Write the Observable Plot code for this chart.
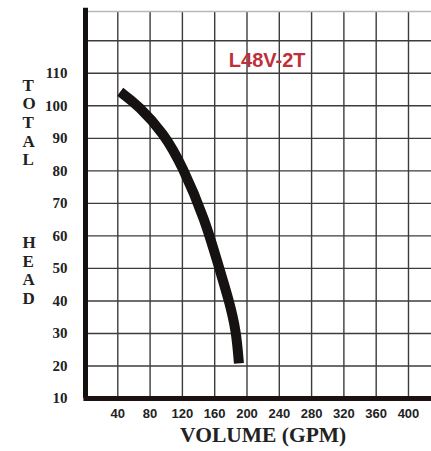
<!DOCTYPE html>
<html>
<head>
<meta charset="utf-8">
<script src="https://cdn.jsdelivr.net/npm/d3@7"></script>
<script src="https://cdn.jsdelivr.net/npm/@observablehq/plot@0.6"></script>
<style>
  html, body { margin: 0; padding: 0; background: #fff; }
  #chart svg { display: block; }
</style>
</head>
<body>
<div id="chart"></div>
<script>
// Data
const curveVolume = [43, 66, 97, 120, 148.5, 165, 177.7, 186.6, 190];
const curveHead   = [104.3, 100, 91.5, 81.5, 64.7, 50.5, 40.2, 30.9, 20.8];
const xTickLabels = [40, 80, 120, 160, 200, 240, 280, 320, 360, 400];
const yTickLabels = [10, 20, 30, 40, 50, 60, 70, 80, 90, 100, 110];
const yGridLines  = [20, 30, 40, 50, 60, 70, 80, 90, 100, 110, 120];
const modelName   = "L48V-2T";
const xTitle      = "VOLUME (GPM)";
const yTitleTop   = "T\nO\nT\nA\nL";
const yTitleBottom = "H\nE\nA\nD";

const curve = curveVolume.map((v, i) => ({volume: v, head: curveHead[i]}));

const serif = "'Liberation Serif', 'Times New Roman', serif";
const sans = "'Liberation Sans', Arial, sans-serif";

const chart = Plot.plot({
  width: 431,
  height: 451,
  marginLeft: 85,
  marginRight: 0,
  marginTop: 11,
  marginBottom: 53,
  style: {background: "#fff"},
  x: {domain: [0, 428.5], axis: null},
  y: {domain: [10, 129], axis: null},
  marks: [
    Plot.gridX(xTickLabels, {stroke: "#3c3c3c", strokeOpacity: 1, strokeWidth: 1.4}),
    Plot.gridY(yGridLines, {stroke: "#3c3c3c", strokeOpacity: 1, strokeWidth: 1.4}),
    Plot.ruleY([129], {stroke: "#b8b8b8", strokeWidth: 1.3}),
    Plot.ruleX([0], {stroke: "#141010", strokeWidth: 5, y1: 10, y2: 130}),
    Plot.ruleY([10], {stroke: "#1c1212", strokeWidth: 5, x1: -2, x2: 428.5}),
    Plot.line(curve, {x: "volume", y: "head", curve: "basis", stroke: "#171212", strokeWidth: 10, strokeLinecap: "butt", strokeLinejoin: "round"}),
    Plot.axisY(yTickLabels, {tickSize: 0, tickPadding: 18, fontSize: 15, fontWeight: "bold", fontFamily: serif, fill: "#222", label: null}),
    Plot.axisX(xTickLabels, {tickSize: 0, tickPadding: 10, fontSize: 13, fontWeight: "bold", fontFamily: sans, fill: "#222", label: null}),
    Plot.text([xTitle], {x: 220, frameAnchor: "bottom", dy: 43, fontSize: 21.5, fontWeight: "bold", fontFamily: serif, fill: "#222"}),
    Plot.text([yTitleTop], {y: 95, frameAnchor: "left", dx: -63, fontSize: 17, fontWeight: "bold", fontFamily: serif, fill: "#222", lineHeight: 1.09}),
    Plot.text([yTitleBottom], {y: 49.5, frameAnchor: "left", dx: -63, fontSize: 17, fontWeight: "bold", fontFamily: serif, fill: "#222", lineHeight: 1.09}),
    Plot.text([modelName], {x: 225, y: 114, fontSize: 20, fontWeight: "bold", fontFamily: sans, fill: "#c0303a"})
  ]
});
document.getElementById("chart").append(chart);
</script>
</body>
</html>
